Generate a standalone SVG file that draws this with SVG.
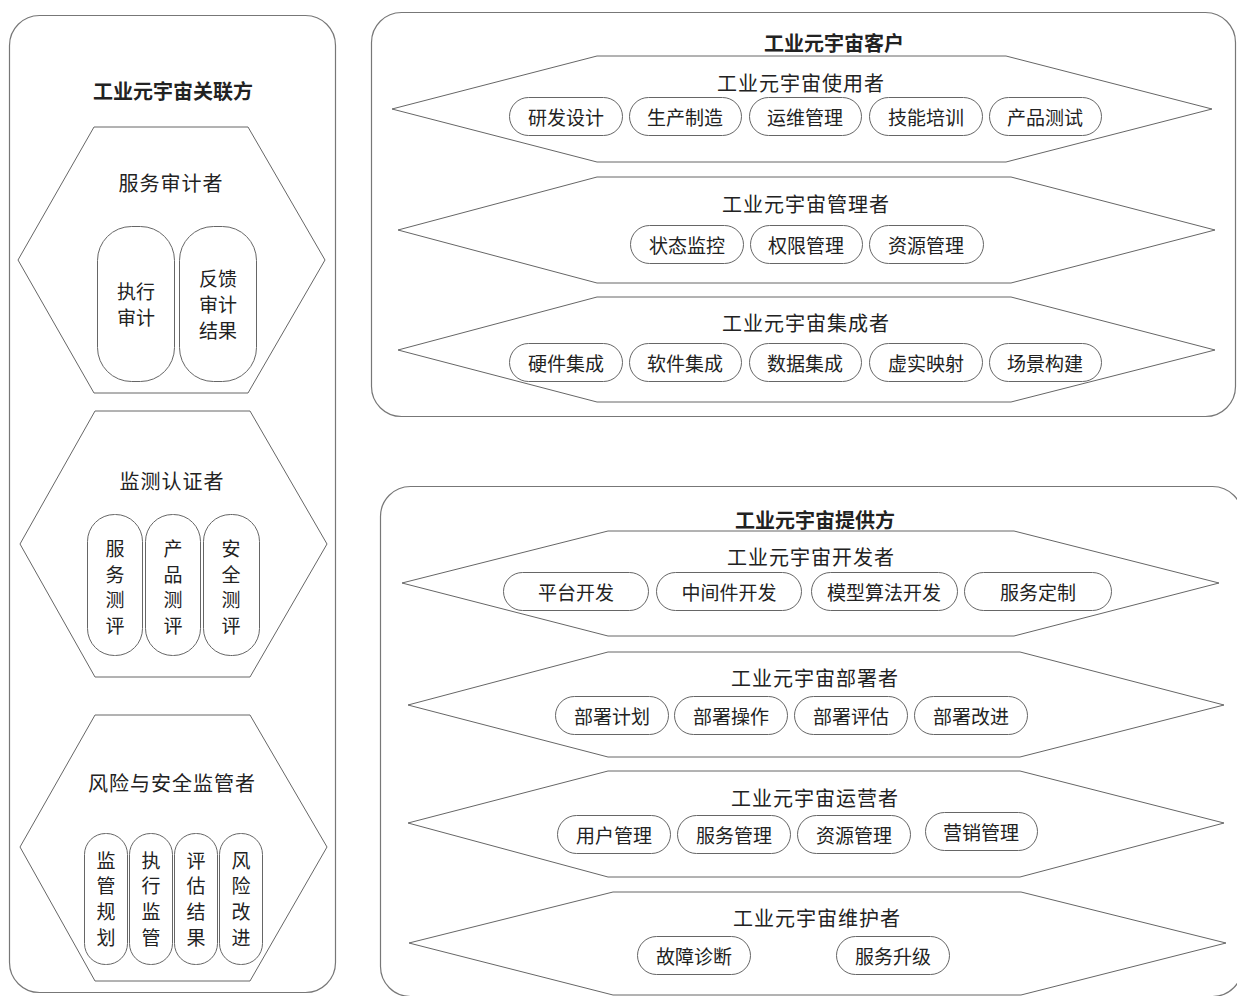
<svg xmlns="http://www.w3.org/2000/svg" width="1237" height="996" viewBox="0 0 1237 996">
<style>
.panel{fill:#fff;stroke:#777;stroke-width:1.2}
.hex{fill:#fff;stroke:#666;stroke-width:1}
.pill{fill:#fff;stroke:#666;stroke-width:1}
text{font-family:"Noto Sans CJK SC","Noto Sans CJK JP",sans-serif;fill:#222;text-anchor:middle;dominant-baseline:central}
.t{font-size:20px;letter-spacing:1px}
.h{font-size:20px;font-weight:bold}
.p{font-size:19px}
</style>
<rect width="1237" height="996" fill="#fff"/>
<g id="related">
<rect class="panel" x="9.5" y="15.5" width="326" height="977" rx="30"/>
<text class="h" x="173" y="90">工业元宇宙关联方</text>
</g>
<g id="auditor">
<polygon class="hex" points="18,260 94,127 248,127 325,260 248,393 94,393"/>
<text class="t" x="171" y="182">服务审计者</text>
<rect class="pill" x="97.5" y="226.5" width="77" height="155" rx="34"/>
<rect class="pill" x="179.5" y="226.5" width="77" height="155" rx="34"/>
<text class="p" x="136" y="290">执行</text><text class="p" x="136" y="316">审计</text>
<text class="p" x="218" y="277">反馈</text><text class="p" x="218" y="303">审计</text><text class="p" x="218" y="329">结果</text>
</g>
<g id="certifier">
<polygon class="hex" points="20,544 95,411 250,411 327,544 250,677 95,677"/>
<text class="t" x="172" y="480">监测认证者</text>
<rect class="pill" x="87.5" y="514.5" width="55" height="141" rx="27"/>
<rect class="pill" x="145.5" y="514.5" width="55" height="141" rx="27"/>
<rect class="pill" x="203.5" y="514.5" width="56" height="141" rx="27"/>
<text class="p" x="115" y="547">服</text><text class="p" x="115" y="573">务</text><text class="p" x="115" y="598">测</text><text class="p" x="115" y="624">评</text>
<text class="p" x="173" y="547">产</text><text class="p" x="173" y="573">品</text><text class="p" x="173" y="598">测</text><text class="p" x="173" y="624">评</text>
<text class="p" x="231" y="547">安</text><text class="p" x="231" y="573">全</text><text class="p" x="231" y="598">测</text><text class="p" x="231" y="624">评</text>
</g>
<g id="regulator">
<polygon class="hex" points="20,847 95,715 250,715 327,847 250,981 95,981"/>
<text class="t" x="172" y="782">风险与安全监管者</text>
<rect class="pill" x="84.5" y="833.5" width="43" height="131" rx="21"/>
<rect class="pill" x="129.5" y="833.5" width="43" height="131" rx="21"/>
<rect class="pill" x="174.5" y="833.5" width="43" height="131" rx="21"/>
<rect class="pill" x="219.5" y="833.5" width="43" height="131" rx="21"/>
<text class="p" x="106" y="859">监</text><text class="p" x="106" y="884">管</text><text class="p" x="106" y="910">规</text><text class="p" x="106" y="936">划</text>
<text class="p" x="151" y="859">执</text><text class="p" x="151" y="884">行</text><text class="p" x="151" y="910">监</text><text class="p" x="151" y="936">管</text>
<text class="p" x="196" y="859">评</text><text class="p" x="196" y="884">估</text><text class="p" x="196" y="910">结</text><text class="p" x="196" y="936">果</text>
<text class="p" x="241" y="859">风</text><text class="p" x="241" y="884">险</text><text class="p" x="241" y="910">改</text><text class="p" x="241" y="936">进</text>
</g>
<g id="customer">
<rect class="panel" x="371.5" y="12.5" width="864" height="404" rx="30"/>
<text class="h" x="834" y="42">工业元宇宙客户</text>
</g>
<g id="user">
<polygon class="hex" points="392,109 597,56 1006,56 1212,109 1006,162 597,162"/>
<text class="t" x="801" y="82">工业元宇宙使用者</text>
<rect class="pill" x="509.5" y="97.5" width="113" height="38" rx="19"/>
<rect class="pill" x="629.5" y="97.5" width="112" height="38" rx="19"/>
<rect class="pill" x="749.5" y="97.5" width="112" height="38" rx="19"/>
<rect class="pill" x="869.5" y="97.5" width="113" height="38" rx="19"/>
<rect class="pill" x="989.5" y="97.5" width="112" height="38" rx="19"/>
<text class="p" x="566" y="116">研发设计</text>
<text class="p" x="685" y="116">生产制造</text>
<text class="p" x="805" y="116">运维管理</text>
<text class="p" x="926" y="116">技能培训</text>
<text class="p" x="1045" y="116">产品测试</text>
</g>
<g id="manager">
<polygon class="hex" points="398,230 597,177 1011,177 1215,230 1011,283 597,283"/>
<text class="t" x="806" y="203">工业元宇宙管理者</text>
<rect class="pill" x="630.5" y="225.5" width="113" height="38" rx="19"/>
<rect class="pill" x="750.5" y="225.5" width="112" height="38" rx="19"/>
<rect class="pill" x="869.5" y="225.5" width="114" height="38" rx="19"/>
<text class="p" x="687" y="244">状态监控</text>
<text class="p" x="806" y="244">权限管理</text>
<text class="p" x="926" y="244">资源管理</text>
</g>
<g id="integrator">
<polygon class="hex" points="398,350 597,297 1011,297 1215,350 1011,402 597,402"/>
<text class="t" x="806" y="322">工业元宇宙集成者</text>
<rect class="pill" x="509.5" y="343.5" width="113" height="38" rx="19"/>
<rect class="pill" x="629.5" y="343.5" width="112" height="38" rx="19"/>
<rect class="pill" x="749.5" y="343.5" width="112" height="38" rx="19"/>
<rect class="pill" x="869.5" y="343.5" width="113" height="38" rx="19"/>
<rect class="pill" x="989.5" y="343.5" width="112" height="38" rx="19"/>
<text class="p" x="566" y="362">硬件集成</text>
<text class="p" x="685" y="362">软件集成</text>
<text class="p" x="805" y="362">数据集成</text>
<text class="p" x="926" y="362">虚实映射</text>
<text class="p" x="1045" y="362">场景构建</text>
</g>
<g id="provider">
<rect class="panel" x="380.5" y="486.5" width="862" height="510" rx="30"/>
<text class="h" x="815" y="519">工业元宇宙提供方</text>
</g>
<g id="developer">
<polygon class="hex" points="402,583 608,531 1014,531 1219,583 1014,636 608,636"/>
<text class="t" x="811" y="556">工业元宇宙开发者</text>
<rect class="pill" x="503.5" y="572.5" width="145" height="38" rx="19"/>
<rect class="pill" x="656.5" y="572.5" width="145" height="38" rx="19"/>
<rect class="pill" x="811.5" y="572.5" width="146" height="38" rx="19"/>
<rect class="pill" x="964.5" y="572.5" width="147" height="38" rx="19"/>
<text class="p" x="576" y="591">平台开发</text>
<text class="p" x="729" y="591">中间件开发</text>
<text class="p" x="884" y="591">模型算法开发</text>
<text class="p" x="1038" y="591">服务定制</text>
</g>
<g id="deployer">
<polygon class="hex" points="408,705 608,652 1020,652 1224,705 1020,757 608,757"/>
<text class="t" x="815" y="677">工业元宇宙部署者</text>
<rect class="pill" x="555.5" y="696.5" width="113" height="38" rx="19"/>
<rect class="pill" x="674.5" y="696.5" width="113" height="38" rx="19"/>
<rect class="pill" x="794.5" y="696.5" width="113" height="38" rx="19"/>
<rect class="pill" x="914.5" y="696.5" width="113" height="38" rx="19"/>
<text class="p" x="612" y="715">部署计划</text>
<text class="p" x="731" y="715">部署操作</text>
<text class="p" x="851" y="715">部署评估</text>
<text class="p" x="971" y="715">部署改进</text>
</g>
<g id="operator">
<polygon class="hex" points="408,823 608,771 1020,771 1224,823 1020,877 608,877"/>
<text class="t" x="815" y="797">工业元宇宙运营者</text>
<rect class="pill" x="557.5" y="815.5" width="113" height="38" rx="19"/>
<rect class="pill" x="677.5" y="815.5" width="113" height="38" rx="19"/>
<rect class="pill" x="797.5" y="815.5" width="113" height="38" rx="19"/>
<rect class="pill" x="925.5" y="812.5" width="112" height="38" rx="19"/>
<text class="p" x="614" y="834">用户管理</text>
<text class="p" x="734" y="834">服务管理</text>
<text class="p" x="854" y="834">资源管理</text>
<text class="p" x="981" y="831">营销管理</text>
</g>
<g id="maintainer">
<polygon class="hex" points="409,943 613,892 1021,892 1226,943 1021,995 613,995"/>
<text class="t" x="817" y="917">工业元宇宙维护者</text>
<rect class="pill" x="637.5" y="936.5" width="113" height="38" rx="19"/>
<rect class="pill" x="836.5" y="936.5" width="113" height="38" rx="19"/>
<text class="p" x="694" y="955">故障诊断</text>
<text class="p" x="893" y="955">服务升级</text>
</g>
<g id="connectors"></g>
</svg>
